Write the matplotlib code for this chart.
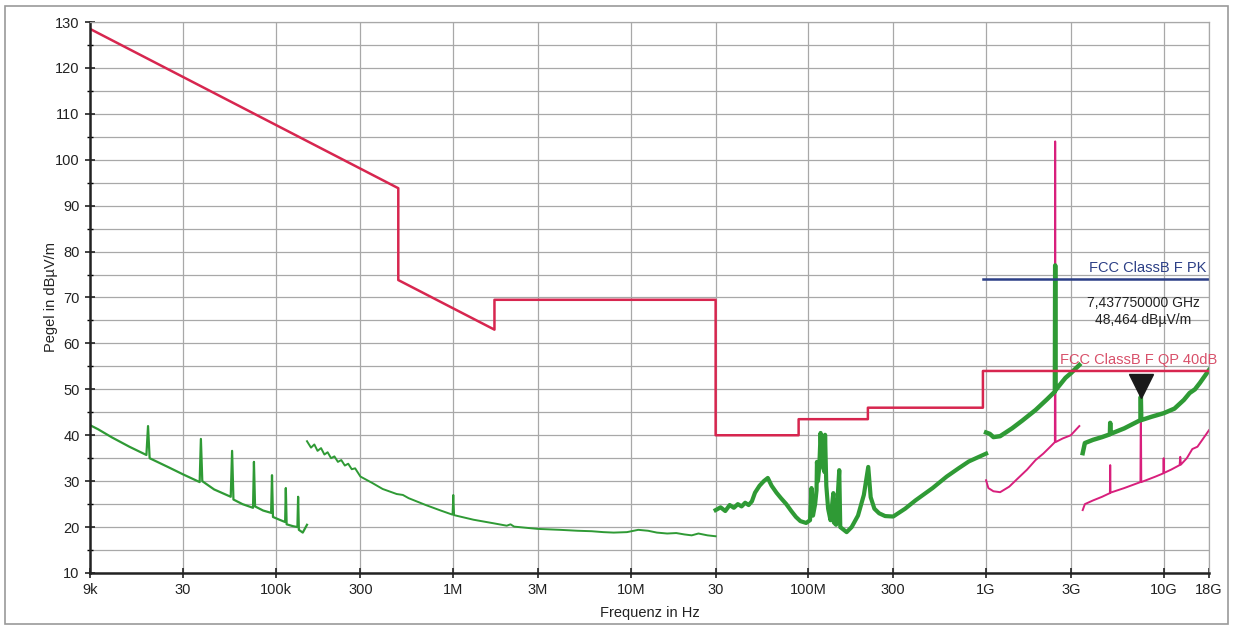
import numpy as np
import matplotlib
matplotlib.use('Agg')
import matplotlib.pyplot as plt
from matplotlib.patches import Rectangle

plt.rcParams['font.family'] = ['Liberation Sans', 'DejaVu Sans']

# limit lines (FCC Class B, QP +40dB and PK)
qp_f = [9e3, 490e3, 490e3, 1.705e6, 1.705e6, 30e6, 30e6, 88e6, 88e6, 216e6, 216e6, 960e6, 960e6, 18e9]
qp_v = [128.5, 93.8, 73.8, 63.0, 69.5, 69.5, 40, 40, 43.5, 43.5, 46, 46, 54, 54]
pk_f = [960e6, 18e9]
pk_v = [74, 74]

# green trace, 9 kHz - 150 kHz
g1_f = [9e3, 10e3, 12e3, 15e3, 18.7e3, 19.1e3, 19.5e3, 25e3, 30e3, 37.3e3, 37.9e3, 38.6e3,
        45e3, 55.8e3, 56.8e3, 57.8e3, 65e3, 74.5e3, 75.4e3, 76.5e3, 85e3, 94.2e3, 95.3e3,
        96.5e3, 105e3, 113e3, 114e3, 115.2e3, 125e3, 132.5e3, 133.7e3, 135e3, 142e3, 150e3]
g1_v = [42.2, 41.3, 39.5, 37.5, 35.7, 42.0, 35.0, 33.0, 31.5, 29.8, 39.2, 30.0,
        28.2, 26.6, 36.6, 26.0, 25.0, 24.2, 34.2, 24.5, 23.6, 23.1, 31.3, 22.2,
        21.6, 21.1, 28.5, 20.6, 20.2, 20.0, 26.6, 19.4, 18.8, 20.5]

# green trace, 150 kHz - 30 MHz
g2_f = [150e3, 158e3, 165e3, 172e3, 180e3, 188e3, 196e3, 205e3, 214e3, 224e3, 234e3, 245e3,
        256e3, 268e3, 280e3, 300e3, 350e3, 400e3, 480e3, 520e3, 560e3, 700e3, 850e3, 990e3,
        1.0e6, 1.01e6, 1.3e6, 1.7e6, 2.0e6, 2.1e6, 2.2e6, 3e6, 4e6, 5e6, 6e6, 7e6, 8e6, 9.5e6,
        11e6, 12.5e6, 14e6, 16e6, 18e6, 20e6, 22e6, 24e6, 27e6, 30e6]
g2_v = [38.7, 37.3, 38.0, 36.6, 37.2, 35.8, 36.3, 35.0, 35.4, 34.2, 34.6, 33.4,
        33.8, 32.6, 32.8, 31.0, 29.6, 28.3, 27.2, 27.0, 26.3, 24.8, 23.6, 22.7,
        27.0, 22.6, 21.6, 20.8, 20.3, 20.6, 20.1, 19.6, 19.4, 19.2, 19.1, 18.9, 18.8, 18.9,
        19.4, 19.2, 18.8, 18.6, 18.7, 18.4, 18.2, 18.6, 18.2, 18.0]

# green trace, 30 MHz - 1 GHz
g3_f = [30e6, 32e6, 34e6, 36e6, 38e6, 40e6, 42e6, 44e6, 46e6, 48e6, 50e6, 53e6, 56e6, 59e6,
        62e6, 66e6, 70e6, 75e6, 80e6, 85e6, 90e6, 97e6, 102e6, 104e6, 106e6, 109e6, 111e6,
        111.6e6, 113e6, 115e6, 117e6, 119e6, 121e6, 123e6, 124e6, 126e6, 129e6, 133e6, 138e6,
        139e6, 143e6, 149e6, 151e6, 164e6, 175e6, 190e6, 205e6, 217e6, 224e6, 235e6, 250e6,
        270e6, 300e6, 350e6, 400e6, 500e6, 600e6, 700e6, 800e6, 1e9]
g3_v = [23.7, 24.3, 23.5, 24.8, 24.2, 25.0, 24.5, 25.3, 24.8, 25.6, 27.5, 29.0, 30.0, 30.7,
        29.0, 27.5, 26.3, 25.0, 23.5, 22.2, 21.3, 20.9, 21.5, 28.5, 22.5, 25.0, 28.0,
        34.2, 30.0, 33.0, 40.5, 34.0, 33.0, 32.0, 40.1, 29.0, 24.0, 21.5, 27.4,
        21.0, 20.5, 32.4, 20.0, 18.9, 20.0, 22.5, 27.0, 33.1, 26.5, 24.0, 23.0,
        22.4, 22.3, 24.0, 25.8, 28.5, 31.0, 32.8, 34.3, 36.0]

# green trace, 1 GHz - 3.35 GHz
g4_f = [1.0e9, 1.05e9, 1.1e9, 1.2e9, 1.4e9, 1.6e9, 1.9e9, 2.2e9, 2.44e9, 2.45e9, 2.46e9,
        2.8e9, 3.0e9, 3.35e9]
g4_v = [40.6, 40.3, 39.6, 39.8, 41.5, 43.2, 45.5, 47.8, 49.5, 77.0, 49.8, 52.5, 53.5, 55.3]

# pink trace, 1 GHz - 3.35 GHz
p4_f = [1.0e9, 1.03e9, 1.1e9, 1.2e9, 1.35e9, 1.5e9, 1.7e9, 1.9e9, 2.1e9, 2.3e9, 2.44e9,
        2.45e9, 2.46e9, 2.7e9, 3.0e9, 3.35e9]
p4_v = [30.2, 28.5, 27.8, 27.6, 28.8, 30.5, 32.5, 34.6, 36.0, 37.5, 38.5,
        104.0, 38.5, 39.3, 40.0, 42.0]

# green trace, 3.5 GHz - 18 GHz
g5_f = [3.5e9, 3.6e9, 4e9, 4.5e9, 4.98e9, 5.0e9, 5.02e9, 6e9, 7.4e9, 7.4377e9, 7.48e9,
        8.5e9, 10e9, 11.5e9, 13e9, 14e9, 15e9, 16e9, 18e9]
g5_v = [36.1, 38.3, 39.0, 39.6, 40.2, 42.7, 40.3, 41.5, 43.3, 48.4, 43.3,
        44.0, 44.8, 45.8, 47.7, 49.2, 50.0, 51.4, 54.2]

# pink trace, 3.5 GHz - 18 GHz
p5_f = [3.5e9, 3.6e9, 4e9, 4.5e9, 4.98e9, 5.0e9, 5.02e9, 6e9, 7.4e9, 7.4377e9, 7.48e9,
        9e9, 9.95e9, 10e9, 10.05e9, 11e9, 12.3e9, 12.4e9, 12.5e9, 13.5e9, 14.5e9, 15.5e9,
        16.5e9, 18e9]
p5_v = [23.7, 25.0, 25.8, 26.6, 27.4, 33.5, 27.5, 28.5, 29.8, 48.4, 29.8,
        31.0, 31.7, 35.0, 31.8, 32.5, 33.5, 35.3, 33.6, 35.0, 37.0, 37.5,
        39.0, 41.1]

marker_f = 7.43775e9
marker_v = 48.464

tick_pos = [9e3, 30e3, 100e3, 300e3, 1e6, 3e6, 10e6, 30e6, 100e6, 300e6, 1e9, 3e9, 10e9, 18e9]
tick_lab = ['9k', '30', '100k', '300', '1M', '3M', '10M', '30', '100M', '300', '1G', '3G', '10G', '18G']

red = '#d7264f'
pink = '#d81f7c'
green = '#2f9a35'
blue = '#2c3f86'

fig = plt.figure(figsize=(12.34, 6.30), dpi=100)
ax = fig.add_axes([90 / 1234, 57 / 630, 1119 / 1234, 551 / 630])
fig.patches.append(Rectangle((5 / 1234, 6 / 630), 1223 / 1234, 618 / 630, transform=fig.transFigure,
                             fill=False, edgecolor='#9a9a9a', linewidth=1.2))

ax.set_xscale('log')
ax.set_xlim(9e3, 18e9)
ax.set_ylim(10, 130)

# measured traces
ax.plot(g1_f, g1_v, color=green, lw=1.6)
ax.plot(g2_f, g2_v, color=green, lw=1.4)
ax.plot(g3_f, g3_v, color=green, lw=3.0)
ax.plot(p4_f, p4_v, color=pink, lw=1.4)
ax.plot(g4_f, g4_v, color=green, lw=3.2)
ax.plot(p5_f, p5_v, color=pink, lw=1.4)
ax.plot(g5_f, g5_v, color=green, lw=3.2)

# limits
ax.plot(qp_f, qp_v, color=red, lw=1.8)
ax.plot(pk_f, pk_v, color=blue, lw=1.8)

# marker
ax.plot([marker_f], [marker_v + 2.3], marker='v', color='#1a1a1a', markersize=17, linestyle='none')
ax.text(marker_f * 1.03, 67.0, '7,437750000 GHz\n48,464 dBµV/m', ha='center', va='center',
        fontsize=10, color='#222222', linespacing=1.3)

ax.text(17.5e9, 75, 'FCC ClassB F PK', ha='right', va='bottom', fontsize=10.5, color=blue)
ax.text(20e9, 54.8, 'FCC ClassB F QP 40dB', ha='right', va='bottom', fontsize=10.5,
        color='#d8506a', clip_on=False)

ax.set_xticks(tick_pos)
ax.set_xticklabels(tick_lab)
ax.xaxis.set_minor_locator(matplotlib.ticker.NullLocator())
ax.set_yticks(np.arange(10, 131, 10))
ax.set_yticks(np.arange(15, 130, 10), minor=True)
ax.grid(True, which='both', color='#a8a8a8', lw=0.9)
ax.tick_params(axis='both', which='major', direction='inout', length=7, width=1.2,
               labelsize=10.5, colors='#222222', pad=4)
ax.tick_params(axis='y', which='minor', direction='inout', length=5, width=1.0)

for s in ['left', 'bottom']:
    ax.spines[s].set_linewidth(1.8)
    ax.spines[s].set_color('#222222')
for s in ['top', 'right']:
    ax.spines[s].set_linewidth(0.9)
    ax.spines[s].set_color('#a8a8a8')

ax.set_ylabel('Pegel in dBµV/m', fontsize=10.5, color='#222222', labelpad=-2)
ax.set_xlabel('Frequenz in Hz', fontsize=10.5, color='#222222', labelpad=6)

fig.savefig('out.png', dpi=100)
